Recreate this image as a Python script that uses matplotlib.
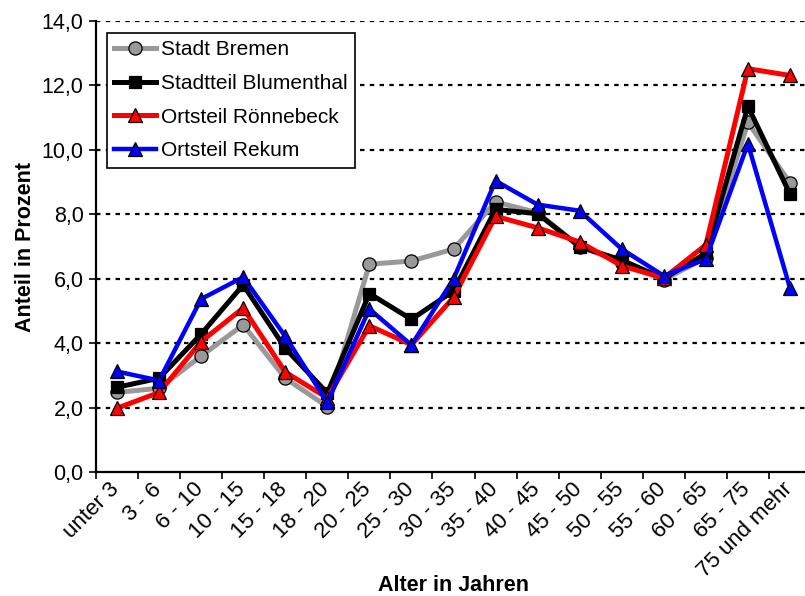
import matplotlib
matplotlib.use("Agg")
import matplotlib.pyplot as plt
from matplotlib.ticker import FixedLocator, FuncFormatter

plt.rcParams['font.family'] = ['Liberation Sans', 'DejaVu Sans']

altersgruppen = ["unter 3", "3 - 6", "6 - 10", "10 - 15", "15 - 18", "18 - 20",
                 "20 - 25", "25 - 30", "30 - 35", "35 - 40", "40 - 45", "45 - 50",
                 "50 - 55", "55 - 60", "60 - 65", "65 - 75", "75 und mehr"]

stadt_bremen = [2.47, 2.60, 3.60, 4.57, 2.91, 2.03, 6.45, 6.55, 6.92, 8.38, 8.05,
                7.00, 6.50, 5.97, 6.65, 10.85, 8.98]
blumenthal = [2.63, 2.91, 4.28, 5.81, 3.84, 2.45, 5.54, 4.74, 5.62, 8.15, 8.02,
              6.99, 6.58, 6.00, 6.79, 11.35, 8.63]
roennebeck = [1.98, 2.47, 4.05, 5.09, 3.10, 2.30, 4.54, 3.95, 5.42, 7.94, 7.58,
              7.14, 6.40, 6.02, 7.05, 12.52, 12.31]
rekum = [3.12, 2.84, 5.37, 6.05, 4.21, 2.16, 5.06, 3.94, 5.99, 9.04, 8.30,
         8.11, 6.92, 6.09, 6.61, 10.19, 5.71]

x = list(range(len(altersgruppen)))

fig = plt.figure(figsize=(8.05, 5.96), dpi=100)
ax = fig.add_axes([96 / 805, 124 / 596, 715 / 805, 451 / 596])

kw = dict(markeredgecolor='black', markeredgewidth=0.9, clip_on=False)
ax.plot(x, stadt_bremen, color='#999999', lw=3.6, marker='o', ms=9.5,
        markerfacecolor='#999999', label='Stadt Bremen', **kw)
ax.plot(x, blumenthal, color='black', lw=3.6, marker='s', ms=8.5,
        markerfacecolor='black', label='Stadtteil Blumenthal', **kw)
ax.plot(x, roennebeck, color='#ff0000', lw=3.6, marker='^', ms=9.5,
        markerfacecolor='#ff0000', label='Ortsteil Rönnebeck', **kw)
ax.plot(x, rekum, color='#0000ff', lw=3.2, marker='^', ms=9.5,
        markerfacecolor='#0000ff', label='Ortsteil Rekum', **kw)

ax.set_xlim(-0.5, len(altersgruppen) - 0.5)
ax.set_ylim(0, 14)

# Gitterlinien gestrichelt
for y in range(2, 15, 2):
    ax.axhline(y, color='black', lw=1.6, ls=(0, (2, 2.4)), zorder=0.5)

ax.set_yticks(range(0, 15, 2))
ax.yaxis.set_major_formatter(FuncFormatter(lambda v, p: f"{v:.1f}".replace('.', ',')))
ax.tick_params(axis='y', direction='out', length=5, width=1.2, labelsize=15.5, pad=4)

# Kategorien: Striche zwischen den Gruppen, Beschriftung schräg darunter
ax.set_xticks(x)
ax.set_xticklabels([])
ax.tick_params(axis='x', which='major', length=0)
ax.xaxis.set_minor_locator(FixedLocator([i - 0.5 for i in range(len(altersgruppen) + 1)]))
ax.tick_params(axis='x', which='minor', direction='out', length=5, width=1.2)
for i, name in zip(x, altersgruppen):
    ax.annotate(name, xy=(i, 0), xycoords=('data', 'axes fraction'),
                xytext=(-6, -5), textcoords='offset points', fontsize=16,
                rotation=45, ha='right', va='top', rotation_mode='anchor')

for s in ['top', 'right']:
    ax.spines[s].set_visible(False)
for s in ['left', 'bottom']:
    ax.spines[s].set_linewidth(1.6)

ax.set_ylabel('Anteil in Prozent', fontsize=15.5, fontweight='bold')
ax.yaxis.set_label_coords(-0.084, 0.5)
ax.set_xlabel('Alter in Jahren', fontsize=15.5, fontweight='bold')
ax.xaxis.set_label_coords(0.5, -0.229)

leg = ax.legend(loc='upper left', bbox_to_anchor=(0.0154, 0.973), borderaxespad=0,
                fontsize=15, frameon=True, fancybox=False, framealpha=1,
                edgecolor='black', handlelength=2.0, handletextpad=0.25,
                labelspacing=0.7, borderpad=0.35)
leg.get_frame().set_linewidth(1.2)

fig.savefig('out.png', dpi=100)
